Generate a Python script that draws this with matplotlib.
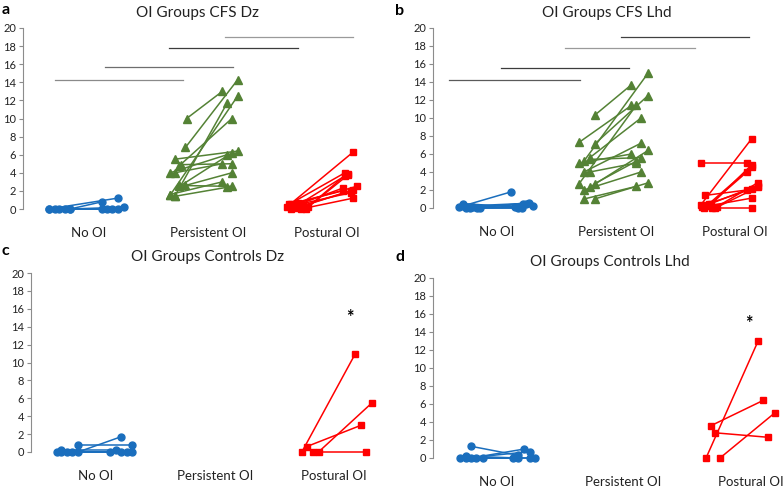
import matplotlib
matplotlib.use("Agg")
import matplotlib.pyplot as plt

plt.rcParams['font.family'] = ['Lato', 'DejaVu Sans']

categories = ['No OI', 'Persistent OI', 'Postural OI']
yticks = list(range(0, 21, 2))

# each subject: (x before, y before) -> (x after, y after)
# panel a: CFS Dz
a_blue_x0 = [0.16, 0.21, 0.25, 0.30, 0.34, 0.34, 0.16]
a_blue_y0 = [0, 0, 0, 0, 0, 0, 0]
a_blue_x1 = [0.61, 0.65, 0.69, 0.74, 0.79, 0.61, 0.74]
a_blue_y1 = [0, 0, 0, 0, 0.2, 0.8, 1.2]

a_green_x0 = [1.32, 1.31, 1.18, 1.22, 1.26, 1.22, 1.27, 1.18, 1.22, 1.26, 1.31, 1.18, 1.22, 1.26]
a_green_y0 = [10.0, 6.8, 1.5, 1.4, 4.8, 5.5, 4.9, 4.0, 4.0, 2.5, 2.6, 1.6, 1.4, 2.6]
a_green_x1 = [1.62, 1.75, 1.75, 1.66, 1.70, 1.75, 1.70, 1.66, 1.62, 1.70, 1.70, 1.62, 1.66, 1.70]
a_green_y1 = [13.0, 14.3, 12.5, 11.7, 10.0, 6.4, 5.0, 6.0, 5.0, 6.2, 4.0, 3.0, 2.4, 2.5]

a_red_x0 = [2.16, 2.18, 2.20, 2.22, 2.24, 2.26, 2.28, 2.30, 2.32, 2.34, 2.20, 2.26]
a_red_y0 = [0.2, 0.5, 0.0, 0.3, 0.1, 0.7, 0.0, 0.4, 0.0, 0.2, 0.6, 0.5]
a_red_x1 = [2.72, 2.65, 2.68, 2.63, 2.70, 2.75, 2.72, 2.72, 2.65, 2.68, 2.63, 2.70]
a_red_y1 = [6.3, 4.0, 3.9, 2.3, 2.0, 2.5, 1.2, 2.1, 3.7, 3.8, 2.0, 1.8]

a_sig_x0 = [0.21, 0.63, 1.17, 1.64]
a_sig_x1 = [1.29, 1.71, 2.26, 2.72]
a_sig_y = [14.3, 15.7, 17.8, 19.0]

# panel b: CFS Lhd
b_blue_x0 = [0.18, 0.21, 0.24, 0.27, 0.30, 0.33, 0.36, 0.21]
b_blue_y0 = [0.1, 0.5, 0.0, 0.0, 0.1, 0.0, 0.0, 0.2]
b_blue_x1 = [0.62, 0.65, 0.68, 0.71, 0.74, 0.77, 0.80, 0.72]
b_blue_y1 = [1.8, 0.1, 0.0, 0.0, 0.4, 0.6, 0.2, 0.5]

b_green_x0 = [1.32, 1.23, 1.19, 1.32, 1.19, 1.28, 1.23, 1.28, 1.19, 1.28, 1.32, 1.28, 1.23, 1.23, 1.32]
b_green_y0 = [10.3, 5.2, 7.3, 7.1, 2.7, 5.6, 4.0, 2.3, 5.0, 5.4, 2.7, 4.0, 2.0, 1.0, 1.0]
b_green_x1 = [1.63, 1.77, 1.63, 1.77, 1.67, 1.71, 1.71, 1.77, 1.63, 1.71, 1.67, 1.67, 1.71, 1.67, 1.77]
b_green_y1 = [13.7, 15.0, 11.4, 12.5, 11.4, 10.0, 7.2, 6.4, 6.0, 5.6, 5.2, 5.0, 4.0, 2.4, 2.8]

b_red_x0 = [2.21, 2.25, 2.21, 2.24, 2.27, 2.30, 2.33, 2.35, 2.28, 2.22, 2.31, 2.26]
b_red_y0 = [5.0, 1.4, 0.3, 0.0, 0.2, 0.4, 0.0, 0.1, 0.5, 0.1, 0.0, 0.3]
b_red_x1 = [2.60, 2.60, 2.64, 2.64, 2.60, 2.64, 2.69, 2.69, 2.64, 2.64, 2.64, 2.69]
b_red_y1 = [5.0, 2.0, 7.7, 4.6, 4.0, 4.8, 2.8, 2.3, 2.1, 1.1, 0.0, 2.5]

b_sig_x0 = [0.10, 0.53, 1.07, 1.54]
b_sig_x1 = [1.20, 1.61, 2.16, 2.62]
b_sig_y = [14.2, 15.6, 17.8, 19.0]

# panel c: Controls Dz
c_blue_x0 = [0.17, 0.21, 0.26, 0.30, 0.35, 0.35, 0.21]
c_blue_y0 = [0, 0.2, 0, 0, 0.8, 0, 0]
c_blue_x1 = [0.62, 0.67, 0.71, 0.76, 0.80, 0.71, 0.80]
c_blue_y1 = [0, 0.2, 0, 0, 0.8, 1.7, 0]

c_red_x0 = [2.23, 2.27, 2.37, 2.32]
c_red_y0 = [0.0, 0.6, 0.0, 0.0]
c_red_x1 = [2.68, 2.73, 2.82, 2.77]
c_red_y1 = [11.0, 3.0, 5.5, 0.0]
c_star = (2.63, 15.0)

# panel d: Controls Lhd
d_blue_x0 = [0.21, 0.26, 0.30, 0.34, 0.39, 0.30, 0.26]
d_blue_y0 = [0, 0.2, 1.3, 0, 0, 0, 0]
d_blue_x1 = [0.63, 0.67, 0.67, 0.76, 0.80, 0.72, 0.76]
d_blue_y1 = [0, 0, 0.3, 0, 0, 1.0, 0.7]

d_red_x0 = [2.15, 2.19, 2.22, 2.26]
d_red_y0 = [0.0, 3.6, 2.8, 0.0]
d_red_x1 = [2.56, 2.60, 2.64, 2.69]
d_red_y1 = [13.0, 6.4, 2.3, 5.0]
d_star = (2.49, 15.0)

BLUE = '#1a6ebd'
GREEN = '#548235'
RED = '#ff0000'
W, H = 784, 488


def pairs(ax, x0, y0, x1, y1, color, marker, ms):
    for i in range(len(x0)):
        ax.plot([x0[i], x1[i]], [y0[i], y1[i]], color=color, lw=1.1,
                marker=marker, ms=ms, clip_on=False, zorder=3)


def setup(ax, xlim):
    ax.set_xlim(*xlim)
    ax.set_ylim(0, 20)
    ax.set_yticks(yticks)
    ax.set_xticks([0.5, 1.5, 2.5])
    ax.set_xticklabels(categories, fontsize=9.5, color='#222222')
    ax.tick_params(axis='x', length=0, pad=13)
    ax.tick_params(axis='y', length=3, color='#8c8c8c', labelsize=8,
                   labelcolor='#222222', pad=2)
    for s in ['top', 'right', 'bottom']:
        ax.spines[s].set_visible(False)
    ax.spines['left'].set_color('#8c8c8c')
    ax.patch.set_alpha(0)


def add_axes(fig, left, top_px, bottom_px, xlim, scale):
    width = (xlim[1] - xlim[0]) * scale
    ax = fig.add_axes([left / W, 1 - bottom_px / H, width / W, (bottom_px - top_px) / H])
    setup(ax, xlim)
    return ax


fig = plt.figure(figsize=(7.84, 4.88), dpi=100)

axa = add_axes(fig, 23, 28, 209, (-0.055, 3.0), 119)
for i in range(len(a_sig_y)):
    axa.plot([a_sig_x0[i], a_sig_x1[i]], [a_sig_y[i], a_sig_y[i]],
             color=['#8a8a8a', '#6e6e6e', '#3c3c3c', '#9a9a9a'][i], lw=0.9)
pairs(axa, a_blue_x0, a_blue_y0, a_blue_x1, a_blue_y1, BLUE, 'o', 5)
pairs(axa, a_green_x0, a_green_y0, a_green_x1, a_green_y1, GREEN, '^', 5.5)
pairs(axa, a_red_x0, a_red_y0, a_red_x1, a_red_y1, RED, 's', 5)

axb = add_axes(fig, 433, 28, 208, (-0.038, 2.9), 119)
for i in range(len(b_sig_y)):
    axb.plot([b_sig_x0[i], b_sig_x1[i]], [b_sig_y[i], b_sig_y[i]],
             color=['#5a5a5a', '#3c3c3c', '#9a9a9a', '#404040'][i], lw=0.9)
pairs(axb, b_blue_x0, b_blue_y0, b_blue_x1, b_blue_y1, BLUE, 'o', 5)
pairs(axb, b_green_x0, b_green_y0, b_green_x1, b_green_y1, GREEN, '^', 5.5)
pairs(axb, b_red_x0, b_red_y0, b_red_x1, b_red_y1, RED, 's', 5)

axc = add_axes(fig, 31, 273, 452, (-0.046, 3.0), 119)
pairs(axc, c_blue_x0, c_blue_y0, c_blue_x1, c_blue_y1, BLUE, 'o', 5)
pairs(axc, c_red_x0, c_red_y0, c_red_x1, c_red_y1, RED, 's', 5)
axc.text(c_star[0], c_star[1], '*', fontsize=13, fontweight='bold',
         ha='center', va='center')

axd = add_axes(fig, 433, 278, 458, (0.0, 2.75), 127)
pairs(axd, d_blue_x0, d_blue_y0, d_blue_x1, d_blue_y1, BLUE, 'o', 5)
pairs(axd, d_red_x0, d_red_y0, d_red_x1, d_red_y1, RED, 's', 5)
axd.text(d_star[0], d_star[1], '*', fontsize=13, fontweight='bold',
         ha='center', va='center')

# titles and panel letters
titles = ['OI Groups CFS Dz', 'OI Groups CFS Lhd', 'OI Groups Controls Dz', 'OI Groups Controls Lhd']
title_pos = [(197, 13), (607, 13), (208, 257), (610, 262)]
letters = ['a', 'b', 'c', 'd']
letter_pos = [(2, 10), (395, 11), (2, 251), (395, 257)]
for t, (x, y) in zip(titles, title_pos):
    fig.text(x / W, 1 - y / H, t, fontsize=11, ha='center', va='center', color='#222222')
for t, (x, y) in zip(letters, letter_pos):
    fig.text(x / W, 1 - y / H, t, fontsize=11.5, fontweight='bold', ha='left', va='center')

fig.savefig('out.png', dpi=100)
